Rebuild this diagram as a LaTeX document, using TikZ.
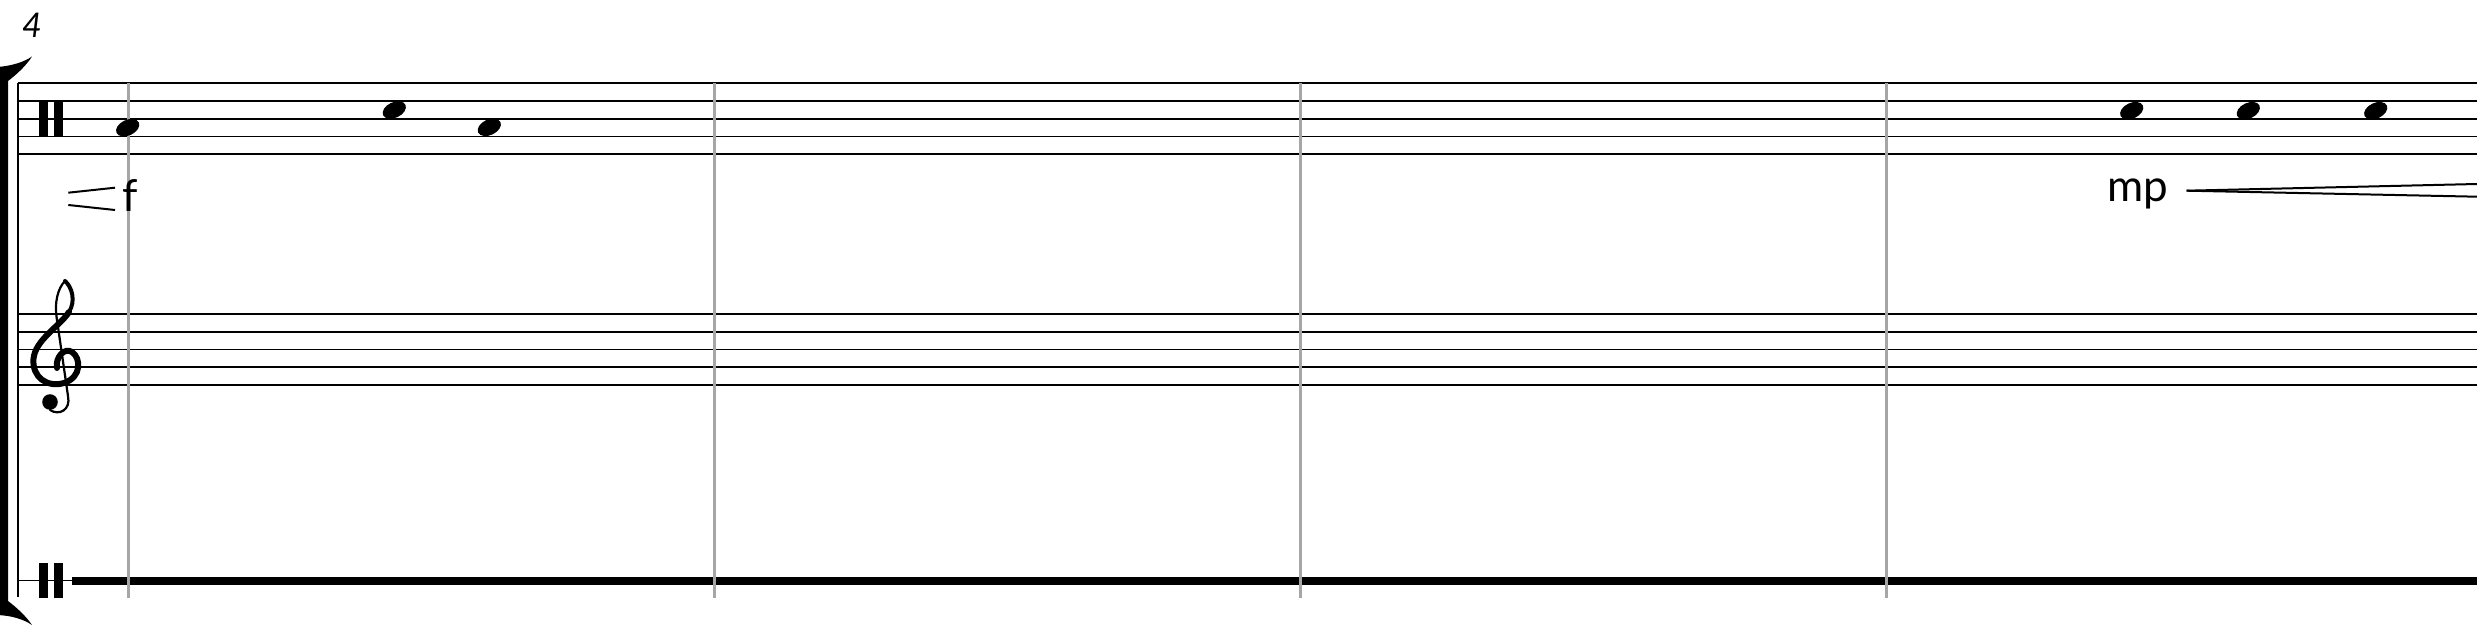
\documentclass[tikz,border=0pt]{standalone}
\usepackage{fontspec}
\setmainfont{Lato}
\definecolor{bargray}{HTML}{A6A6A6}
\begin{document}
\begin{tikzpicture}[x=1pt,y=-1pt,
  staffline/.style={line width=1.8pt,black},
  barline/.style={line width=3pt,bargray},
  hairpin/.style={line width=2pt,black},
  dyn/.style={anchor=base west,inner sep=0pt,font=\fontsize{44}{48}\selectfont},
  clefbar/.style={fill=black},
  gbody/.style={line width=6pt,black,line cap=round},
  gthin/.style={line width=2.2pt,black,line cap=round}]
\useasboundingbox (0,0) rectangle (2477,628);
% measure number
\node[anchor=base west,inner sep=0pt,font=\fontsize{34}{38}\selectfont\itshape] (mnum) at (22,38) {4};
% bracket
\fill (-3,67) .. controls (12,66) and (24,62) .. (32,56.5)
  .. controls (26,66) and (16,75) .. (8,81) -- (8,601)
  .. controls (16,607) and (26,616) .. (32,625)
  .. controls (24,619.5) and (12,615.5) .. (-3,615) -- cycle;
\draw[line width=2pt] (18.3,83) -- (18.3,597);
% top staff
\foreach \k in {0,...,4} \draw[staffline] (18.3,83.3+17.75*\k) -- (2477,83.3+17.75*\k);
% treble staff
\foreach \k in {0,...,4} \draw[staffline] (18.3,314.2+17.7*\k) -- (2477,314.2+17.7*\k);
% bottom one-line staff
\draw[line width=1.6pt] (18.3,580.5) -- (72,580.5);
\fill (72,576.5) rectangle (2477,584.5);
% barlines
\foreach \bx in {128.3,714,1300,1886} \draw[barline] (\bx,83) -- (\bx,598);
% percussion clefs
\fill[clefbar] (39.3,101) rectangle (48.3,136.5);
\fill[clefbar] (54.3,101) rectangle (63.3,136.5);
\fill[clefbar] (39.3,562.7) rectangle (48.3,597.7);
\fill[clefbar] (54.3,562.7) rectangle (63.3,597.7);
% treble clef
\draw[gbody] (57,368) .. controls (55,357) and (65,347) .. (72,352)
  .. controls (81,358) and (82,377) .. (64,383)
  .. controls (47,388) and (32,377) .. (33.5,359)
  .. controls (35,340) and (60,326) .. (69,312);
\draw[line width=4pt,black,line cap=round] (69,312) .. controls (76,301) and (72,287) .. (65,281);
\draw[gthin] (65,281) .. controls (58,288) and (54,302) .. (57,320)
  -- (68,396) .. controls (71,410) and (59,416) .. (50,410);
\fill (50,402) circle (7.8);
% noteheads
\foreach \nx/\ny in {127.7/127.7,394.3/110,489.3/127.3,2131.7/110.7,2248.3/110.7,2375.7/110.7}
  \fill[shift={(\nx,\ny)},rotate=25] (0,0) ellipse (12.3 and 7.8);
% dynamics
\draw[hairpin] (68.3,192.7) -- (115,187.7);
\draw[hairpin] (68.3,205) -- (115,210);
\node[dyn] (dynf) at (122,212) {f};
\node[dyn] (dynmp) at (2107,201.7) {mp};
\coordinate (hpstart) at (2186.7,190.7);
\coordinate (hptop) at (2477,184);
\coordinate (hpbot) at (2477,196.7);
\draw[hairpin] (hpstart) -- (hptop);
\draw[hairpin] (hpstart) -- (hpbot);
\end{tikzpicture}
\end{document}
